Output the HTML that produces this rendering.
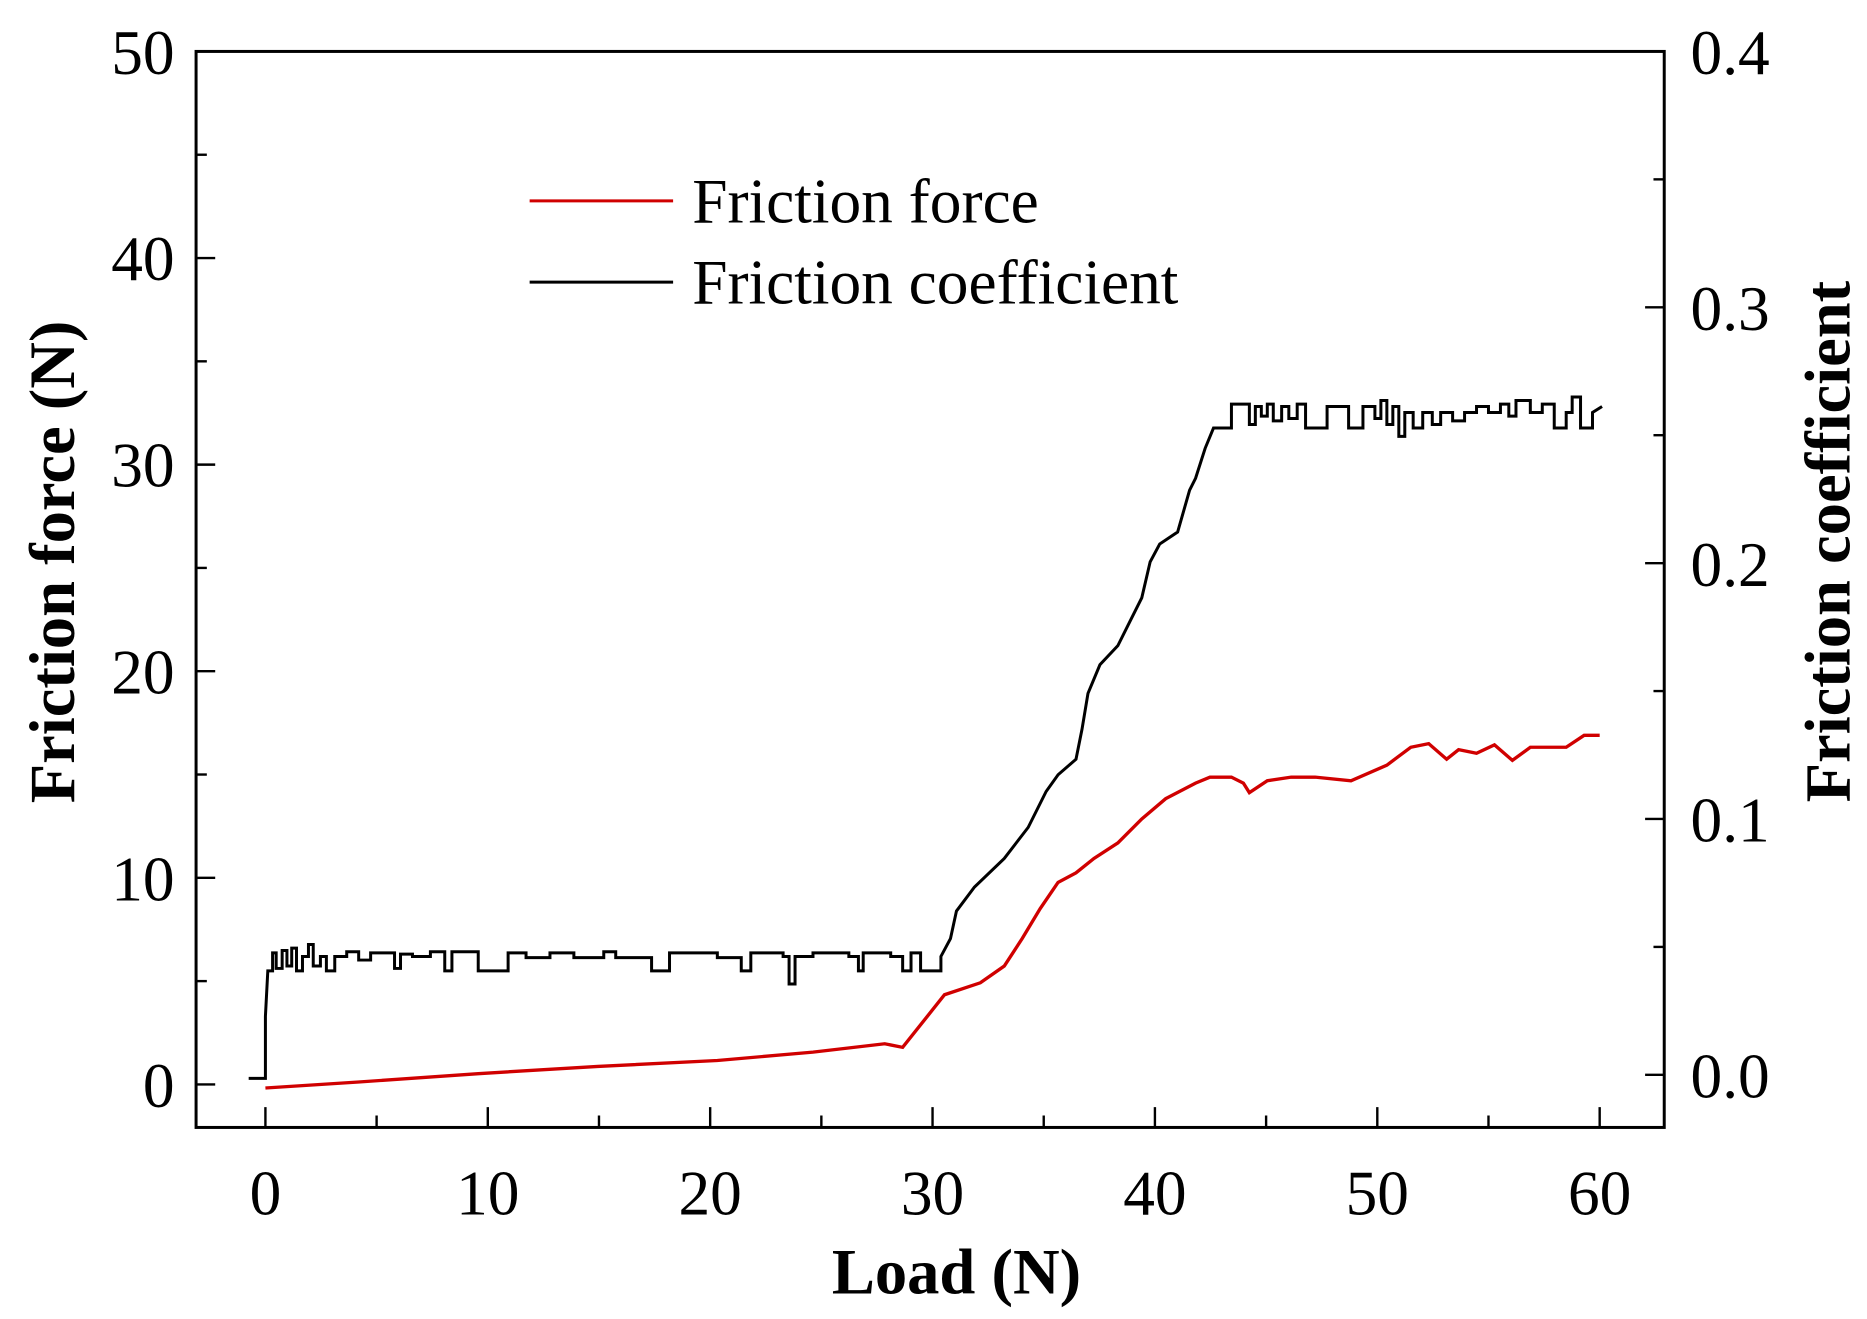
<!DOCTYPE html>
<html><head><meta charset="utf-8"><style>
html,body{margin:0;padding:0;background:#fff;}
svg{display:block;}
text{font-family:"Liberation Serif",serif;fill:#000;}
</style></head><body>
<svg width="1867" height="1319" viewBox="0 0 1561.6 1103.2" xmlns="http://www.w3.org/2000/svg">
<rect x="0" y="0" width="1561.6" height="1103.2" fill="#fff"/>
<rect x="164" y="43" width="1228" height="900" fill="none" stroke="#000" stroke-width="2.5"/>
<g stroke="#000" stroke-width="2">
<line x1="164" y1="907" x2="180" y2="907"/><line x1="164" y1="820.6" x2="173" y2="820.6"/>
<line x1="164" y1="734.2" x2="180" y2="734.2"/><line x1="164" y1="647.8" x2="173" y2="647.8"/>
<line x1="164" y1="561.4" x2="180" y2="561.4"/><line x1="164" y1="475" x2="173" y2="475"/>
<line x1="164" y1="388.6" x2="180" y2="388.6"/><line x1="164" y1="302.2" x2="173" y2="302.2"/>
<line x1="164" y1="215.8" x2="180" y2="215.8"/><line x1="164" y1="129.4" x2="173" y2="129.4"/>
<line x1="1392" y1="899" x2="1376" y2="899"/><line x1="1392" y1="792" x2="1383" y2="792"/>
<line x1="1392" y1="685" x2="1376" y2="685"/><line x1="1392" y1="578" x2="1383" y2="578"/>
<line x1="1392" y1="471" x2="1376" y2="471"/><line x1="1392" y1="364" x2="1383" y2="364"/>
<line x1="1392" y1="257" x2="1376" y2="257"/><line x1="1392" y1="150" x2="1383" y2="150"/>
<line x1="222" y1="943" x2="222" y2="926"/><line x1="315" y1="943" x2="315" y2="933"/>
<line x1="408" y1="943" x2="408" y2="926"/><line x1="501" y1="943" x2="501" y2="933"/>
<line x1="594" y1="943" x2="594" y2="926"/><line x1="687" y1="943" x2="687" y2="933"/>
<line x1="780" y1="943" x2="780" y2="926"/><line x1="873" y1="943" x2="873" y2="933"/>
<line x1="966" y1="943" x2="966" y2="926"/><line x1="1059" y1="943" x2="1059" y2="933"/>
<line x1="1152" y1="943" x2="1152" y2="926"/><line x1="1245" y1="943" x2="1245" y2="933"/>
<line x1="1338" y1="943" x2="1338" y2="926"/>
</g>
<g font-size="53" text-anchor="end">
<text x="146" y="926">0</text><text x="146" y="753">10</text><text x="146" y="580">20</text>
<text x="146" y="407">30</text><text x="146" y="234">40</text><text x="146" y="62">50</text>
</g>
<g font-size="53" text-anchor="start">
<text x="1414" y="918">0.0</text><text x="1414" y="704">0.1</text><text x="1414" y="490">0.2</text>
<text x="1414" y="276">0.3</text><text x="1414" y="62">0.4</text>
</g>
<g font-size="53" text-anchor="middle">
<text x="222" y="1016">0</text><text x="408" y="1016">10</text><text x="594" y="1016">20</text>
<text x="780" y="1016">30</text><text x="966" y="1016">40</text><text x="1152" y="1016">50</text>
<text x="1338" y="1016">60</text>
</g>
<text x="800" y="1082" font-size="54" font-weight="bold" text-anchor="middle">Load (N)</text>
<text transform="translate(62,470) rotate(-90)" font-size="54" font-weight="bold" text-anchor="middle">Friction force (N)</text>
<text transform="translate(1547,453) rotate(-90)" font-size="54" font-weight="bold" text-anchor="middle">Friction coefficient</text>
<line x1="443" y1="168" x2="563" y2="168" stroke="#d00000" stroke-width="2.5"/>
<text x="579" y="186" font-size="53">Friction force</text>
<line x1="443" y1="236" x2="563" y2="236" stroke="#000" stroke-width="2.5"/>
<text x="579" y="254" font-size="53">Friction coefficient</text>
<path fill="none" stroke="#000" stroke-width="2.5" d="M208,902 H222 V850 L224,812 H228 V797 H231 V810 H236 V795 H240 V808 H244 V793 H248 V812 H253 V800 H258 V790 H262 V808 H268 V800 H273 V812 H280 V800 H290 V796 H300 V803 H310 V797 H330 V810 H335 V798 H345 V800 H360 V796 H372 V812 H378 V796 H400 V812 H425 V797 H440 V801 H460 V797 H480 V801 H505 V796 H515 V801 H545 V812 H560 V797 H600 V801 H620 V812 H628 V797 H655 V800 H660 V823 H665 V800 H680 V797 H710 V800 H718 V812 H722 V797 H745 V800 H755 V812 H762 V797 H770 V812 H787 V800 L795,785 L800,762 L815,742 L840,718 L860,692 L875,662 L885,648 L900,635 L905,610 L910,580 L920,556 L935,540 L945,520 L955,500 L962,470 L970,455 L985,445 L995,410 L1000,400 L1008,375 L1015,358 H1030 V338 H1045 V355 H1050 V340 H1055 V348 H1060 V338 H1065 V352 H1072 V340 H1078 V350 H1085 V338 H1092 V358 H1110 V340 H1128 V358 H1140 V340 H1150 V350 H1155 V335 H1160 V355 H1165 V340 H1170 V365 H1175 V345 H1182 V358 H1190 V345 H1198 V355 H1205 V345 H1215 V352 H1225 V345 H1235 V340 H1245 V345 H1255 V338 H1262 V348 H1268 V335 H1280 V345 H1290 V338 H1300 V358 H1310 V345 H1315 V332 H1322 V358 H1332 V345 L1340,340"/>
<path fill="none" stroke="#d00000" stroke-width="2.8" d="M222,910 L300,905 L400,898 L500,892 L600,887 L680,880 L740,873 L755,876 L790,832 L820,822 L840,808 L855,785 L870,760 L885,738 L900,730 L915,718 L935,705 L955,685 L975,668 L1000,655 L1012,650 H1030 L1040,655 L1045,663 L1060,653 L1080,650 H1100 L1130,653 L1160,640 L1180,625 L1195,622 L1210,635 L1220,627 L1235,630 L1250,623 L1265,636 L1280,625 H1310 L1325,615 H1338"/>
</svg>
</body></html>
